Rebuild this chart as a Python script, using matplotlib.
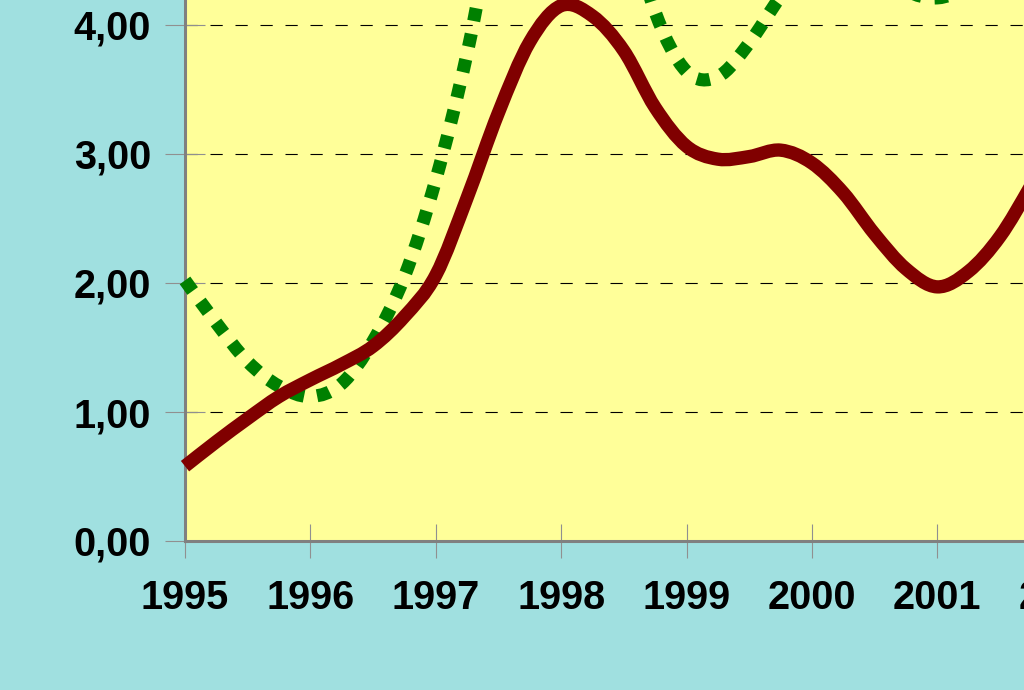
import numpy as np
import matplotlib
matplotlib.use("Agg")
import matplotlib.pyplot as plt
from matplotlib.path import Path
from matplotlib.patches import PathPatch

# ---- data ----
years = [1995, 1996, 1997, 1998, 1999, 2000, 2001, 2002]
year_labels = ["1995", "1996", "1997", "1998", "1999", "2000", "2001", "2002"]
y_ticks = [0, 1, 2, 3, 4]
y_tick_labels = ["0,00", "1,00", "2,00", "3,00", "4,00"]

# sample positions (quarter years) and values
t_samples = [1995.00, 1995.25, 1995.50, 1995.75, 1996.00, 1996.25, 1996.50, 1996.75,
             1997.00, 1997.25, 1997.50, 1997.75, 1998.00, 1998.25, 1998.50, 1998.75,
             1999.00, 1999.25, 1999.50, 1999.75, 2000.00, 2000.25, 2000.50, 2000.75,
             2001.00, 2001.25, 2001.50, 2001.75, 2002.00]
red_values = [0.58, 0.77, 0.95, 1.12, 1.25, 1.37, 1.51, 1.74,
              2.06, 2.66, 3.32, 3.87, 4.15, 4.07, 3.80, 3.36,
              3.06, 2.96, 2.98, 3.03, 2.93, 2.70, 2.38, 2.11,
              1.97, 2.09, 2.36, 2.76, 3.20]
green_values = [2.02, 1.69, 1.39, 1.20, 1.12, 1.22, 1.55, 2.05,
                2.80, 3.78, 5.00, 5.80, 6.00, 5.70, 4.95, 4.10,
                3.64, 3.60, 3.86, 4.22, 4.50, 4.60, 4.48, 4.27,
                4.21, 4.30, 4.50, 4.80, 5.00]

RED = "#800000"
GREEN = "#008000"
BG = "#A0E0E0"
PLOT_BG = "#FFFF99"


def smooth_path(t, v):
    """Catmull-Rom curve through the points expressed as cubic Bezier segments."""
    p = np.column_stack([t, v]).astype(float)
    n = len(p)
    verts = [p[0]]
    codes = [Path.MOVETO]
    for i in range(n - 1):
        p0 = p[i - 1] if i > 0 else p[i]
        p1 = p[i]
        p2 = p[i + 1]
        p3 = p[i + 2] if i + 2 < n else p[i + 1]
        c1 = p1 + (p2 - p0) / 6.0
        c2 = p2 - (p3 - p1) / 6.0
        verts += [c1, c2, p2]
        codes += [Path.CURVE4] * 3
    return Path(verts, codes)


fig = plt.figure(figsize=(10.24, 6.9), dpi=100, facecolor=BG)
ax = fig.add_axes([185 / 1024, 149 / 690, 1003 / 1024, 645 / 690])
ax.set_facecolor(PLOT_BG)
ax.set_xlim(1995, 2003)
ax.set_ylim(0, 5)

for s in ["top", "right"]:
    ax.spines[s].set_visible(False)
for s in ["left", "bottom"]:
    ax.spines[s].set_color("#808080")
    ax.spines[s].set_linewidth(2.2)

ax.set_xticks(years)
ax.set_xticklabels(year_labels)
ax.set_yticks(y_ticks)
ax.set_yticklabels(y_tick_labels)
ax.tick_params(axis="x", direction="inout", length=25, width=0.8, color="#909090",
               labelsize=28.5, pad=15)
ax.tick_params(axis="y", direction="inout", length=29, width=0.8, color="#909090",
               labelsize=28.5, pad=10)
for lab in ax.get_xticklabels() + ax.get_yticklabels():
    lab.set_fontweight("bold")
    lab.set_fontfamily("Liberation Sans")

ax.yaxis.grid(True, color="black", linestyle=(0, (11, 11.5)), linewidth=0.8)
ax.xaxis.grid(False)

green_patch = PathPatch(smooth_path(t_samples, green_values), fill=False,
                        edgecolor=GREEN, linewidth=9.4, linestyle=(0, (1, 1)),
                        capstyle="butt", zorder=3, clip_on=False)
red_patch = PathPatch(smooth_path(t_samples, red_values), fill=False,
                      edgecolor=RED, linewidth=9.6, linestyle="-",
                      capstyle="butt", joinstyle="round", zorder=4, clip_on=False)
ax.add_patch(green_patch)
ax.add_patch(red_patch)

fig.savefig("out.png", dpi=100, facecolor=BG)
